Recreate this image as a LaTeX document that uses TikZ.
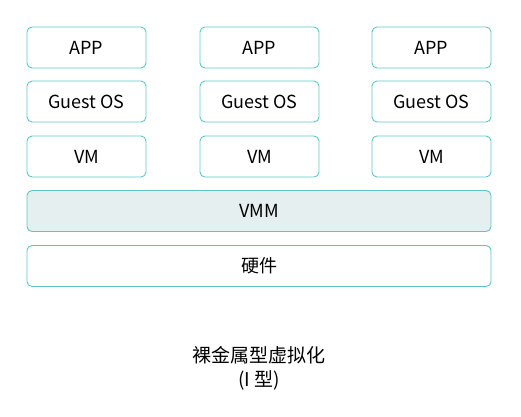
\documentclass[tikz,border=0pt]{standalone}
\usepackage{xcolor}
\usepackage{fontspec}
\setmainfont{Noto Sans CJK SC}
\definecolor{edge}{HTML}{5CC6C4}
\definecolor{shade}{HTML}{E5EFEF}

\begin{document}
\begin{tikzpicture}[x=1pt, y=-1pt,
  every node/.style={font=\fontsize{18pt}{22pt}\selectfont},
  box/.style={draw=edge, line width=0.9pt, rounded corners=5pt, minimum width=119pt, minimum height=41pt, inner sep=0pt},
  wide/.style={box, minimum width=464pt},
  vmm/.style={wide, fill=shade}
]
\useasboundingbox (0,0) rectangle (521,416);
\node[box] (app1) at (86.5,47.5) {APP};
\node[box] (app2) at (259.5,47.5) {APP};
\node[box] (app3) at (431.5,47.5) {APP};
\node[box] (os1) at (86.5,101.5) {Guest OS};
\node[box] (os2) at (259.5,101.5) {Guest OS};
\node[box] (os3) at (431.5,101.5) {Guest OS};
\node[box] (vm1) at (86.5,156.5) {VM};
\node[box] (vm2) at (259.5,156.5) {VM};
\node[box] (vm3) at (431.5,156.5) {VM};
\node[vmm] (vmm) at (259,211) {VMM};
\node[wide] (hw) at (259,266) {硬件};
\node[align=center, inner sep=0pt, font=\fontsize{19pt}{24pt}\selectfont] (cap) at (259,368) {裸金属型虚拟化\\(I 型)};
\end{tikzpicture}
\end{document}
